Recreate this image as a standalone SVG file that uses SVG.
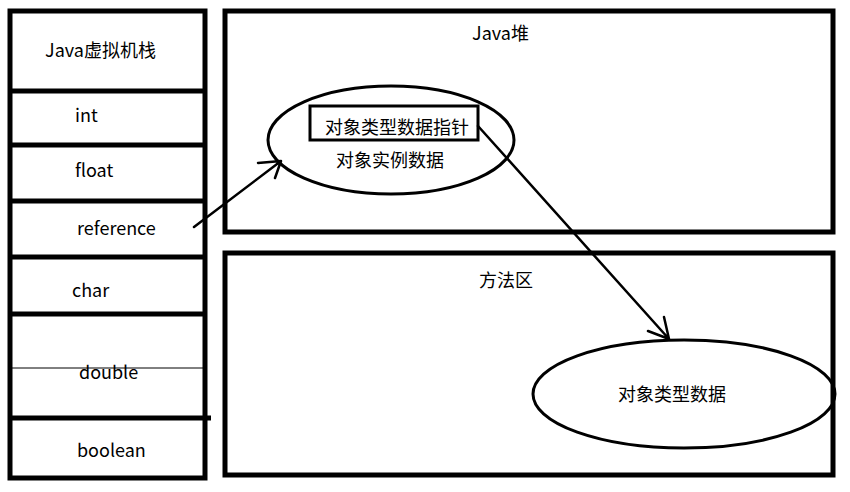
<svg xmlns="http://www.w3.org/2000/svg" width="850" height="492" viewBox="0 0 850 492">
<style>
text{font-family:"Noto Sans CJK SC","Noto Sans",sans-serif;font-size:18px;fill:#000;}
.box{fill:none;stroke:#000;stroke-width:5;}
.div{stroke:#000;stroke-width:5;}
.ell{fill:none;stroke:#000;stroke-width:3;}
.arr{fill:none;stroke:#000;stroke-width:2.5;stroke-linecap:round;stroke-linejoin:round;}
</style>
<rect width="850" height="492" fill="#fff"/>
<g id="stack">
<rect class="box" x="10" y="11" width="195" height="467"/>
<line class="div" x1="10" y1="91" x2="205" y2="91"/>
<line class="div" x1="10" y1="145" x2="205" y2="145"/>
<line class="div" x1="10" y1="201" x2="205" y2="201"/>
<line class="div" x1="10" y1="257" x2="205" y2="257"/>
<line class="div" x1="10" y1="314" x2="205" y2="314"/>
<line stroke="#000" stroke-width="1" x1="12" y1="368" x2="203" y2="368"/>
<line class="div" x1="10" y1="418" x2="211" y2="418"/>
<text x="45" y="57">Java虚拟机栈</text>
<text x="75" y="122">int</text>
<text x="75" y="177">float</text>
<text x="77" y="235">reference</text>
<text x="72" y="297">char</text>
<text x="79" y="379">double</text>
<text x="77" y="457">boolean</text>
</g>
<g id="heap">
<rect class="box" x="225" y="11" width="608" height="221"/>
<text x="472" y="40">Java堆</text>
</g>
<g id="method-area">
<rect class="box" x="225" y="253" width="608" height="222"/>
<text x="479" y="287">方法区</text>
</g>
<g id="object-instance">
<ellipse class="ell" cx="391" cy="140" rx="123" ry="54"/>
<rect fill="none" stroke="#000" stroke-width="3" x="310" y="106" width="168" height="34"/>
<text x="325" y="134">对象类型数据指针</text>
<text x="336" y="167">对象实例数据</text>
</g>
<g id="type-data">
<ellipse class="ell" cx="684" cy="394" rx="151" ry="54"/>
<text x="618" y="401">对象类型数据</text>
</g>
<g id="connectors">
<path class="arr" d="M194 227 L281 161 M258 163 L281 161 L275 178"/>
<path class="arr" d="M478 126 L669 339 M648 331 L669 339 L664 317"/>
</g>
</svg>
